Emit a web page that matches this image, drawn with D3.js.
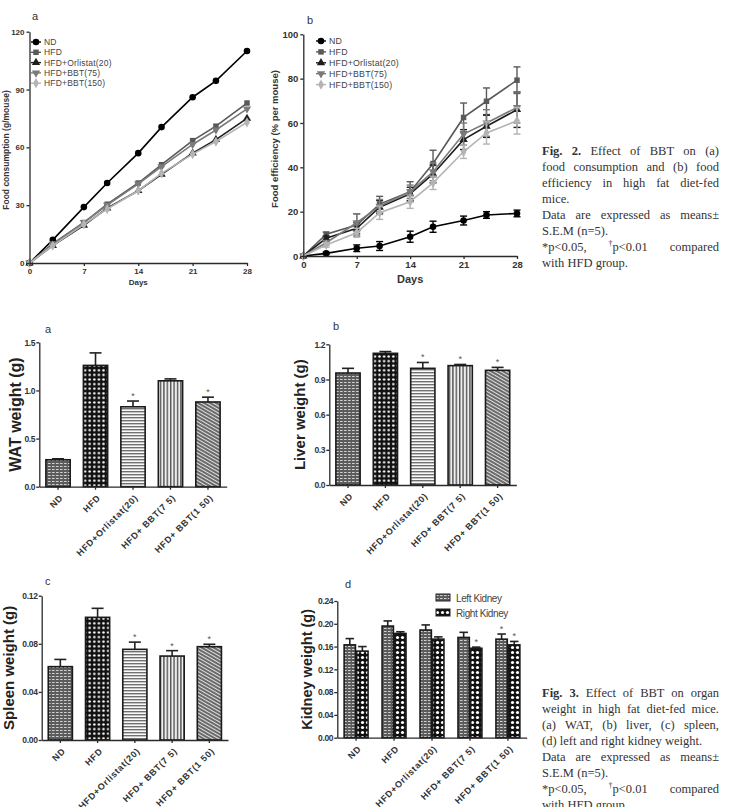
<!DOCTYPE html>
<html>
<head>
<meta charset="utf-8">
<script src="https://cdn.jsdelivr.net/npm/d3@7"></script>
<style>
  body { margin: 0; background: #fff; }
  svg { display: block; }
  .axis path, .axis line { stroke: #2a2a2a; stroke-width: 1.3; }
  .axis text { fill: #333; font-family: "Liberation Sans", Arial, sans-serif; font-weight: bold; }
</style>
</head>
<body>
<div id="chart"></div>
<script>
// --- datos ---
const days = [0, 3, 7, 10, 14, 17, 21, 24, 28];
const lineGroups = ["ND", "HFD", "HFD+Orlistat(20)", "HFD+BBT(75)", "HFD+BBT(150)"];

// Fig. 2a consumo de alimento (g/raton)
const consND = [0, 12, 29, 41.5, 57, 70.5, 86, 94.5, 110];
const consHFD = [0, 10, 21, 30.5, 41.5, 51, 63.5, 71, 83];
const consOrl = [0, 9, 19.5, 28.5, 37.5, 46, 57, 64, 75];
const consB75 = [0, 9.5, 21, 30, 41, 50, 61.5, 69, 80];
const consB150 = [0, 9, 20, 28, 37.5, 46.5, 56.5, 63, 73];

// Fig. 2b eficiencia (%), media y SEM
const effND = [0, 1.2, 3.5, 4.5, 8.7, 13.2, 16, 18.5, 19.2];
const effNDErr = [0, 0.5, 1.5, 2, 2.5, 2.5, 2, 1.5, 1.5];
const effHFD = [0, 9.8, 14, 23.4, 29, 41.7, 62.5, 69.8, 79.3];
const effHFDErr = [0, 1, 5, 3.5, 4.5, 6, 6.5, 6, 6];
const effOrl = [0, 8, 12.5, 22, 28, 37, 52.5, 58.5, 66];
const effOrlErr = [0, 1, 2.5, 3, 3, 4, 4.5, 5, 8];
const effB75 = [0, 6, 15, 22.5, 29, 38, 55, 60, 67];
const effB75Err = [0, 1, 4, 3, 3, 4, 5, 6, 7];
const effB150 = [0, 5, 10.5, 19.5, 24.5, 33, 47, 55.5, 61];
const effB150Err = [0, 1, 2, 3, 3, 3, 3, 5, 6];

// Fig. 3 pesos de organos (g)
const barGroups = ["ND", "HFD", "HFD+Orlistat(20)", "HFD+ BBT(7 5)", "HFD+ BBT(1 50)"];
const watMean = [0.28, 1.26, 0.83, 1.10, 0.88];
const watErr = [0.01, 0.13, 0.06, 0.02, 0.05];
const watStar = [false, false, true, false, true];
const liverMean = [0.955, 1.123, 0.995, 1.018, 0.978];
const liverErr = [0.04, 0.015, 0.05, 0.01, 0.025];
const liverStar = [false, false, true, true, true];
const spleenMean = [0.061, 0.102, 0.0754, 0.0698, 0.0776];
const spleenErr = [0.006, 0.0075, 0.006, 0.0045, 0.002];
const spleenStar = [false, false, true, true, true];
const kidneyLeft = [0.163, 0.196, 0.189, 0.176, 0.173];
const kidneyLeftErr = [0.011, 0.009, 0.009, 0.009, 0.009];
const kidneyLeftStar = [false, false, false, false, true];
const kidneyRight = [0.152, 0.183, 0.173, 0.157, 0.163];
const kidneyRightErr = [0.008, 0.003, 0.004, 0.002, 0.006];
const kidneyRightStar = [false, false, false, true, true];

const fig2Caption = [
  "Fig. 2. Effect of BBT on (a)",
  "food consumption and (b) food",
  "efficiency in high fat diet-fed",
  "mice.",
  "Data are expressed as means±",
  "S.E.M (n=5).",
  "*p<0.05, †p<0.01 compared",
  "with HFD group."
];
const fig3Caption = [
  "Fig. 3. Effect of BBT on organ",
  "weight in high fat diet-fed mice.",
  "(a) WAT, (b) liver, (c) spleen,",
  "(d) left and right kidney weight.",
  "Data are expressed as means±",
  "S.E.M (n=5).",
  "*p<0.05, †p<0.01 compared",
  "with HFD group."
];
// lineas que no se justifican (final de parrafo)
const captionLeft = [3, 5, 7];

const W = 733, H = 807;
const sans = '"Liberation Sans", Arial, sans-serif';
const narrow = '"Liberation Sans Narrow", "Liberation Sans", Arial, sans-serif';
const serif = '"Liberation Serif", "Times New Roman", serif';

const svg = d3.select("#chart").append("svg").attr("width", W).attr("height", H);
svg.append("rect").attr("width", W).attr("height", H).attr("fill", "#fff");

// --- patrones de relleno de las barras ---
const defs = svg.append("defs");
function pattern(id, w, h, bg, draw, rot) {
  const p = defs.append("pattern").attr("id", id).attr("patternUnits", "userSpaceOnUse")
    .attr("width", w).attr("height", h);
  if (rot) p.attr("patternTransform", `rotate(${rot})`);
  p.append("rect").attr("width", w).attr("height", h).attr("fill", bg);
  draw(p);
}
pattern("p-nd", 4, 3, "#5c5c5c", p => {
  p.append("rect").attr("x", 0).attr("y", 1).attr("width", 2.6).attr("height", 1).attr("fill", "#d0d0d0");
});
pattern("p-hfd", 4.6, 4.6, "#111", p => {
  p.append("circle").attr("cx", 2.3).attr("cy", 2.3).attr("r", 1.25).attr("fill", "#fff");
});
pattern("p-orl", 4, 3, "#fafafa", p => {
  p.append("rect").attr("width", 4).attr("height", 1.4).attr("fill", "#707070");
});
pattern("p-b75", 3.4, 4, "#eee", p => {
  p.append("rect").attr("width", 1.4).attr("height", 4).attr("fill", "#555");
});
pattern("p-b150", 3, 3, "#6a6a6a", p => {
  p.append("rect").attr("width", 1).attr("height", 3).attr("fill", "#e0e0e0");
}, -60);
pattern("p-rk", 5, 5, "#111", p => {
  p.append("circle").attr("cx", 2.5).attr("cy", 2.5).attr("r", 1.6).attr("fill", "#fff");
});
const barPatterns = ["p-nd", "p-hfd", "p-orl", "p-b75", "p-b150"];

// --- simbolos de cada grupo ---
const markers = [
  { type: d3.symbolCircle, size: 34, rot: 0 },
  { type: d3.symbolSquare, size: 30, rot: 0 },
  { type: d3.symbolTriangle, size: 30, rot: 0 },
  { type: d3.symbolTriangle, size: 30, rot: 180 },
  { type: d3.symbolDiamond, size: 30, rot: 0 }
];
const lineColors = ["#000", "#595959", "#1e1e1e", "#7a7a7a", "#b4b4b4"];

function panelLetter(x, y, t) {
  svg.append("text").attr("x", x).attr("y", y).text(t)
    .attr("font-family", sans).attr("font-size", 11).attr("fill", "#333");
}

function lineChart(cfg) {
  const g = svg.append("g");
  const x = d3.scaleLinear().domain([0, 28]).range([cfg.x0, cfg.x1]);
  const y = d3.scaleLinear().domain([0, cfg.max]).range([cfg.yBot, cfg.yTop]);

  const line = d3.line().x((d, i) => x(days[i])).y(d => y(d));

  cfg.series.forEach((s, k) => {
    const c = lineColors[k];
    if (s.err) {
      const eb = g.append("g").attr("stroke", c).attr("stroke-width", 1.4);
      s.mean.forEach((m, i) => {
        if (!s.err[i]) return;
        const cx = x(days[i]);
        eb.append("line").attr("x1", cx).attr("x2", cx).attr("y1", y(m - s.err[i])).attr("y2", y(m + s.err[i]));
        [m - s.err[i], m + s.err[i]].forEach(v => {
          eb.append("line").attr("x1", cx - 3.5).attr("x2", cx + 3.5).attr("y1", y(v)).attr("y2", y(v));
        });
      });
    }
    g.append("path").datum(s.mean).attr("d", line).attr("fill", "none")
      .attr("stroke", c).attr("stroke-width", 1.6);
    g.selectAll(null).data(s.mean).join("path")
      .attr("transform", (d, i) => `translate(${x(days[i])},${y(d)}) rotate(${markers[k].rot})`)
      .attr("d", d3.symbol(markers[k].type, markers[k].size)).attr("fill", c);
  });

  const ya = g.append("g").attr("class", "axis").attr("transform", `translate(${cfg.x0},0)`)
    .call(d3.axisLeft(y).tickValues(cfg.yTicks).tickSize(3).tickSizeOuter(0).tickPadding(2));
  ya.selectAll("text").attr("font-size", cfg.tickFont);
  const xa = g.append("g").attr("class", "axis").attr("transform", `translate(0,${cfg.yBot})`)
    .call(d3.axisBottom(x).tickValues([0, 7, 14, 21, 28]).tickSize(3).tickSizeOuter(0).tickPadding(2));
  xa.selectAll("text").attr("font-size", cfg.tickFont);

  g.append("text").attr("x", (cfg.x0 + cfg.x1) / 2).attr("y", cfg.daysY).attr("text-anchor", "middle")
    .attr("font-family", sans).attr("font-weight", "bold").attr("font-size", cfg.daysFont)
    .attr("fill", "#333").text("Days");
  g.append("text").attr("transform", `translate(${cfg.ylabX},${cfg.ylabY}) rotate(-90)`)
    .attr("text-anchor", "middle").attr("font-family", sans).attr("font-weight", "bold")
    .attr("font-size", cfg.ylabFont).attr("fill", "#333").text(cfg.ylab);

  // leyenda
  lineGroups.forEach((name, k) => {
    const ly = cfg.legY + k * cfg.legStep;
    const c = lineColors[k];
    g.append("line").attr("x1", cfg.legX - 5).attr("x2", cfg.legX + 5).attr("y1", ly).attr("y2", ly)
      .attr("stroke", c).attr("stroke-width", 1.4);
    g.append("path").attr("transform", `translate(${cfg.legX},${ly}) rotate(${markers[k].rot})`)
      .attr("d", d3.symbol(markers[k].type, markers[k].size)).attr("fill", c);
    g.append("text").attr("x", cfg.legX + 8).attr("y", ly + 3).text(name)
      .attr("font-family", sans).attr("font-size", cfg.legFont).attr("letter-spacing", 0.2).attr("fill", "#444");
  });
}

function barChart(cfg) {
  const g = svg.append("g");
  const nSer = cfg.series.length;
  const x = d3.scaleBand().domain(barGroups).range([cfg.x0, cfg.x1])
    .paddingInner(nSer > 1 ? 0.37 : 0.28).paddingOuter(nSer > 1 ? 0.18 : 0.14);
  const xs = d3.scaleBand().domain(d3.range(nSer)).range([0, x.bandwidth()]).paddingInner(0.1);
  const y = d3.scaleLinear().domain([0, cfg.max]).range([cfg.yBot, cfg.yTop]);

  cfg.series.forEach((s, k) => {
    barGroups.forEach((grp, i) => {
      const bx = x(grp) + xs(k);
      const bw = xs.bandwidth();
      const top = y(s.mean[i]);
      const eTop = y(s.mean[i] + s.err[i]);
      const cx = bx + bw / 2;
      const cap = Math.min(12, bw * 0.75);
      g.append("line").attr("x1", cx).attr("x2", cx).attr("y1", top).attr("y2", eTop)
        .attr("stroke", "#222").attr("stroke-width", 1.6);
      g.append("line").attr("x1", cx - cap / 2).attr("x2", cx + cap / 2).attr("y1", eTop).attr("y2", eTop)
        .attr("stroke", "#222").attr("stroke-width", 1.6);
      g.append("rect").attr("x", bx).attr("y", top).attr("width", bw).attr("height", cfg.yBot - top)
        .attr("fill", `url(#${s.pattern ? s.pattern : barPatterns[i]})`)
        .attr("stroke", "#1a1a1a").attr("stroke-width", 1.6);
      if (s.star[i]) {
        g.append("text").attr("x", cx).attr("y", eTop - 2).attr("text-anchor", "middle")
          .attr("font-family", sans).attr("font-size", 9).attr("fill", "#555").text("*");
      }
    });
  });

  const ya = g.append("g").attr("class", "axis").attr("transform", `translate(${cfg.x0},0)`)
    .call(d3.axisLeft(y).tickValues(cfg.yTicks).tickFormat(d3.format(cfg.fmt)).tickSize(3).tickSizeOuter(0).tickPadding(1));
  ya.selectAll("text").attr("font-size", 8.5).attr("font-family", narrow).attr("letter-spacing", -0.3);
  const xa = g.append("g").attr("class", "axis").attr("transform", `translate(0,${cfg.yBot})`)
    .call(d3.axisBottom(x).tickSize(3).tickSizeOuter(0).tickFormat(""));
  xa.selectAll(".tick").append("text")
    .attr("transform", `translate(4,10) rotate(-45)`)
    .attr("text-anchor", "end").attr("dominant-baseline", "middle")
    .attr("font-size", 9).attr("font-family", narrow).attr("letter-spacing", 0.7)
    .text(d => d);

  g.append("text").attr("transform", `translate(${cfg.ylabX},${(cfg.yTop + cfg.yBot) / 2}) rotate(-90)`)
    .attr("text-anchor", "middle").attr("font-family", sans).attr("font-weight", "bold")
    .attr("font-size", cfg.ylabFont).attr("fill", "#222").text(cfg.ylab);

  if (cfg.legend) {
    cfg.series.forEach((s, k) => {
      const ly = cfg.legend.y + k * 15;
      g.append("rect").attr("x", cfg.legend.x).attr("y", ly - 4).attr("width", 14).attr("height", 7)
        .attr("fill", `url(#${s.pattern})`).attr("stroke", "#222").attr("stroke-width", 1);
      g.append("text").attr("x", cfg.legend.x + 20).attr("y", ly + 3.5).text(s.name)
        .attr("font-family", narrow).attr("font-size", 10).attr("letter-spacing", -0.4).attr("fill", "#444");
    });
  }
}

// texto justificado de los pies de figura
function caption(lines, x0, x1, y0, step) {
  const g = svg.append("g").attr("font-family", serif).attr("font-size", 12.5).attr("fill", "#333");
  lines.forEach((ln, li) => {
    const yy = y0 + li * step;
    const words = ln.split(" ");
    const nodes = words.map((w, wi) => {
      const t = g.append("text").attr("y", yy);
      if (/^Fig\.$/.test(w) || (wi === 1 && words[0] === "Fig.")) t.attr("font-weight", "bold");
      if (w.startsWith("†")) {
        t.append("tspan").attr("font-size", 8).attr("dy", -5).text("†");
        t.append("tspan").attr("dy", 5).text(w.slice(1));
      } else t.text(w);
      return t;
    });
    const widths = nodes.map(n => n.node().getComputedTextLength());
    const total = d3.sum(widths);
    const gap = captionLeft.includes(li) || words.length < 2 ? 3.2 : (x1 - x0 - total) / (words.length - 1);
    let cx = x0;
    nodes.forEach((n, i) => { n.attr("x", cx); cx += widths[i] + gap; });
  });
}

// --- Fig. 2 ---
lineChart({
  x0: 29.5, x1: 247, yTop: 31.7, yBot: 263, max: 120, yTicks: [0, 30, 60, 90, 120],
  tickFont: 8, daysY: 285, daysFont: 8, ylab: "Food consumption (g/mouse)", ylabX: 9, ylabY: 150, ylabFont: 8.5,
  legX: 36, legY: 42, legStep: 10.3, legFont: 8.5,
  series: [
    { mean: consND }, { mean: consHFD }, { mean: consOrl }, { mean: consB75 }, { mean: consB150 }
  ]
});
panelLetter(32, 20, "a");

lineChart({
  x0: 303.3, x1: 517, yTop: 34.3, yBot: 256, max: 100, yTicks: [0, 20, 40, 60, 80, 100],
  tickFont: 9.5, daysY: 283, daysFont: 11, ylab: "Food efficiency (% per mouse)", ylabX: 278, ylabY: 139, ylabFont: 9.5,
  legX: 321, legY: 41, legStep: 10.9, legFont: 8.8,
  series: [
    { mean: effND, err: effNDErr }, { mean: effHFD, err: effHFDErr }, { mean: effOrl, err: effOrlErr },
    { mean: effB75, err: effB75Err }, { mean: effB150, err: effB150Err }
  ]
});
panelLetter(307, 24, "b");

// --- Fig. 3 ---
barChart({
  x0: 39.3, x1: 226.7, yTop: 342.3, yBot: 486.7, max: 1.5, yTicks: [0, 0.5, 1.0, 1.5], fmt: ".1f",
  ylab: "WAT weight (g)", ylabX: 21, ylabFont: 16,
  series: [{ mean: watMean, err: watErr, star: watStar }]
});
panelLetter(45, 333, "a");

barChart({
  x0: 329.3, x1: 516.3, yTop: 344.3, yBot: 485, max: 1.2, yTicks: [0, 0.3, 0.6, 0.9, 1.2], fmt: ".1f",
  ylab: "Liver weight (g)", ylabX: 305, ylabFont: 15,
  series: [{ mean: liverMean, err: liverErr, star: liverStar }]
});
panelLetter(333, 330, "b");

barChart({
  x0: 41.7, x1: 228, yTop: 595.7, yBot: 740, max: 0.12, yTicks: [0, 0.04, 0.08, 0.12], fmt: ".2f",
  ylab: "Spleen weight (g)", ylabX: 14, ylabFont: 15,
  series: [{ mean: spleenMean, err: spleenErr, star: spleenStar }]
});
panelLetter(45, 585, "c");

barChart({
  x0: 337.3, x1: 526.7, yTop: 601, yBot: 737.7, max: 0.24, yTicks: [0, 0.04, 0.08, 0.12, 0.16, 0.20, 0.24], fmt: ".2f",
  ylab: "Kidney weight (g)", ylabX: 312, ylabFont: 14.5,
  legend: { x: 436, y: 598 },
  series: [
    { name: "Left Kidney", mean: kidneyLeft, err: kidneyLeftErr, star: kidneyLeftStar, pattern: "p-nd" },
    { name: "Right Kidney", mean: kidneyRight, err: kidneyRightErr, star: kidneyRightStar, pattern: "p-rk" }
  ]
});
panelLetter(345, 588, "d");

caption(fig2Caption, 542, 719, 155, 16);
caption(fig3Caption, 542, 719, 697, 16);
</script>
</body>
</html>
